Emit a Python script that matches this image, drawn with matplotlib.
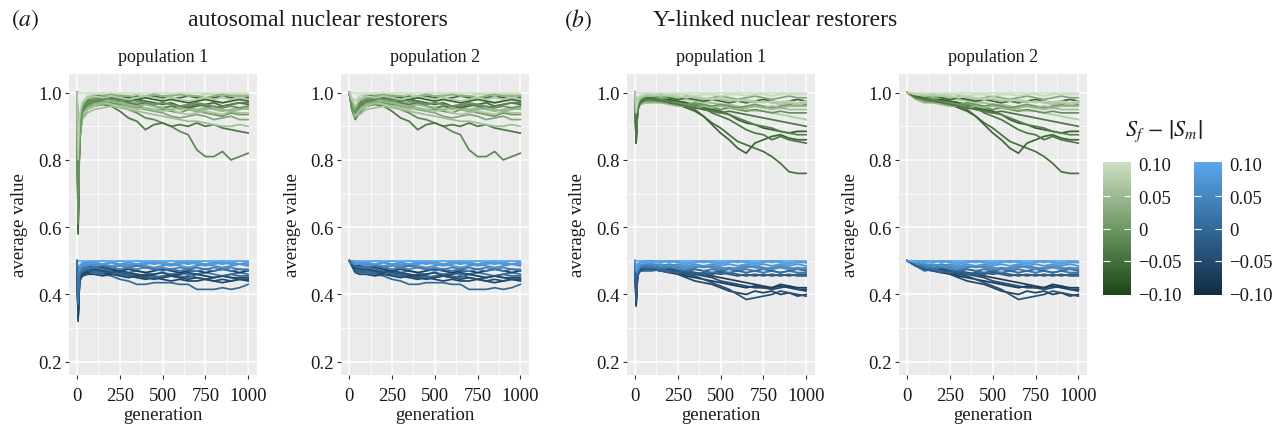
import matplotlib
matplotlib.use('Agg')
import numpy as np
import matplotlib.pyplot as plt
from matplotlib.colors import LinearSegmentedColormap, Normalize

plt.rcParams['font.family'] = ['Liberation Serif', 'DejaVu Serif']
plt.rcParams['mathtext.fontset'] = 'stix'

# ---------------- data ----------------
LATE_GENS = [100, 150, 200, 250, 300, 350, 400, 450, 500, 550,
             600, 650, 700, 750, 800, 850, 900, 950, 1000]

# (a) autosomal restorers -- colour values (S_f - |S_m|)
A_GREEN_S = [-0.02, -0.04, 0.05, 0.02, 0.0, 0.04, -0.05, -0.07, -0.06, 0.08, 0.10, 0.06, -0.03, 0.03,
             0.04, -0.01, 0.07]
A_BLUE_S = [0.0, -0.06, -0.04, 0.02, -0.07, 0.04, 0.06, 0.09, 0.10, 0.0, 0.07, -0.05,
            0.07, -0.05, 0.02]

A_GREEN_LATE = [
    [.97, .975, .97, .96, .95, .94, .925, .92, .91, .90, .885, .875, .83, .81, .81, .825, .80, .81, .82],
    [.96, .965, .96, .945, .925, .915, .89, .905, .91, .90, .905, .90, .91, .90, .905, .895, .89, .885, .88],
    [.95, .955, .96, .955, .95, .945, .94, .935, .93, .925, .92, .915, .915, .91, .905, .90, .90, .905, .90],
    [.96, .965, .97, .965, .96, .955, .95, .945, .94, .93, .925, .93, .935, .93, .92, .925, .93, .92, .92],
    [.97, .975, .97, .965, .97, .96, .955, .95, .95, .945, .94, .95, .945, .94, .935, .93, .94, .935, .935],
    [.975, .98, .975, .97, .975, .97, .965, .96, .955, .96, .95, .955, .95, .955, .95, .945, .95, .955, .95],
    [.985, .99, .985, .98, .975, .98, .975, .97, .965, .97, .96, .955, .96, .965, .97, .96, .965, .97, .965],
    [.99, .99, .985, .99, .985, .98, .985, .98, .975, .98, .975, .97, .975, .98, .975, .97, .975, .98, .975],
    [.99, .995, .99, .99, .985, .99, .985, .99, .985, .98, .985, .99, .985, .98, .985, .99, .985, .98, .985],
    [.995, .995, .99, .995, .99, .995, .99, .995, .99, .995, .99, .995, .99, .995, .995, .99, .995, .995, .995],
    [1.0, 1.0, 1.0, 1.0, 1.0, 1.0, 1.0, 1.0, 1.0, 1.0, 1.0, 1.0, 1.0, 1.0, 1.0, 1.0, 1.0, 1.0, 1.0],
    [.96, .97, .965, .96, .955, .95, .955, .95, .945, .95, .94, .935, .94, .945, .94, .935, .945, .94, .94],
    [.975, .98, .985, .98, .97, .965, .97, .96, .955, .96, .955, .96, .965, .96, .955, .96, .965, .97, .97],
    [.985, .99, .995, .99, .99, .985, .99, .995, .99, .99, .995, .99, .99, .985, .99, .995, .99, .99, .99],
    [.965, .97, .975, .97, .965, .96, .965, .96, .955, .95, .955, .95, .945, .95, .955, .95, .945, .95, .955],
    [.98, .985, .98, .975, .98, .975, .97, .965, .97, .965, .96, .965, .97, .965, .96, .955, .96, .955, .96],
    [.99, .985, .99, .985, .98, .985, .99, .985, .98, .985, .98, .975, .98, .985, .98, .985, .98, .985, .98],
]
A_BLUE_LATE = [
    [.465, .46, .455, .445, .44, .43, .43, .435, .435, .435, .43, .43, .415, .415, .415, .42, .415, .42, .43],
    [.47, .465, .46, .46, .455, .45, .445, .45, .445, .44, .445, .44, .44, .445, .44, .435, .44, .445, .44],
    [.475, .47, .47, .465, .46, .455, .46, .455, .45, .455, .45, .455, .45, .445, .45, .455, .45, .45, .45],
    [.48, .475, .47, .47, .465, .47, .465, .46, .465, .46, .465, .46, .46, .465, .46, .455, .46, .465, .46],
    [.485, .48, .475, .47, .475, .47, .465, .47, .475, .47, .465, .47, .47, .465, .47, .475, .47, .465, .47],
    [.49, .485, .48, .485, .48, .475, .48, .475, .48, .475, .48, .475, .47, .475, .48, .475, .48, .475, .475],
    [.49, .49, .485, .49, .485, .49, .485, .48, .485, .49, .485, .48, .485, .49, .485, .48, .485, .49, .485],
    [.495, .50, .495, .50, .495, .50, .495, .50, .495, .50, .495, .50, .495, .50, .495, .50, .495, .50, .495],
    [.50, .50, .50, .50, .50, .50, .50, .50, .50, .50, .50, .50, .50, .50, .50, .50, .50, .50, .50],
    [.47, .465, .47, .46, .455, .46, .455, .45, .455, .46, .455, .45, .46, .455, .45, .455, .46, .455, .455],
    [.485, .49, .495, .49, .49, .485, .49, .495, .49, .485, .49, .495, .49, .485, .49, .495, .49, .49, .49],
    [.475, .47, .465, .47, .465, .46, .455, .46, .465, .455, .46, .465, .46, .455, .45, .455, .45, .445, .445],
    [.495, .49, .495, .49, .495, .49, .495, .49, .495, .49, .495, .49, .495, .49, .495, .49, .495, .49, .495],
    [.46, .455, .46, .455, .45, .455, .45, .445, .45, .455, .45, .445, .45, .445, .44, .445, .44, .445, .445],
    [.48, .485, .48, .475, .48, .485, .48, .475, .47, .475, .47, .475, .48, .475, .47, .475, .47, .475, .47],
]

# (a) early generations, population 1 and 2
A1_EARLY_GENS = [0, 6, 15, 30, 60]
A1_GREEN_EARLY = [
    [1.0, .62, .85, .93, .955], [1.0, .65, .86, .925, .95], [1.0, .70, .87, .92, .94],
    [1.0, .68, .875, .93, .95], [1.0, .64, .88, .94, .96], [1.0, .72, .89, .945, .965],
    [1.0, .60, .88, .95, .975], [1.0, .58, .89, .955, .98], [1.0, .59, .90, .96, .985],
    [1.0, .78, .92, .97, .99], [1.0, 1.0, 1.0, 1.0, 1.0], [1.0, .75, .88, .93, .95],
    [1.0, .63, .87, .94, .965], [1.0, .70, .90, .96, .98], [1.0, .66, .87, .935, .955],
    [1.0, .61, .88, .95, .97], [1.0, .80, .93, .97, .985],
]
A1_BLUE_EARLY = [
    [.5, .33, .44, .455, .46], [.5, .32, .445, .46, .465], [.5, .34, .45, .465, .47],
    [.5, .36, .45, .47, .475], [.5, .33, .455, .475, .48], [.5, .38, .46, .48, .485],
    [.5, .42, .47, .485, .49], [.5, .47, .485, .495, .495], [.5, .5, .5, .5, .5],
    [.5, .35, .45, .465, .47], [.5, .45, .48, .49, .49], [.5, .34, .445, .46, .47],
    [.5, .44, .48, .49, .495], [.5, .33, .44, .455, .46], [.5, .37, .46, .475, .48],
]
A2_EARLY_GENS = [0, 15, 35, 60]
A2_GREEN_EARLY = [
    [1.0, .955, .925, .945], [1.0, .95, .92, .94], [1.0, .96, .93, .935],
    [1.0, .955, .925, .945], [1.0, .96, .935, .955], [1.0, .965, .94, .96],
    [1.0, .96, .945, .97], [1.0, .965, .95, .975], [1.0, .97, .955, .98],
    [1.0, .985, .975, .99], [1.0, 1.0, 1.0, 1.0], [1.0, .96, .93, .945],
    [1.0, .955, .935, .96], [1.0, .97, .95, .975], [1.0, .96, .935, .95],
    [1.0, .955, .94, .965], [1.0, .98, .96, .98],
]
A2_BLUE_EARLY = [
    [.5, .485, .47, .465], [.5, .49, .475, .47], [.5, .49, .48, .475],
    [.5, .49, .48, .48], [.5, .495, .485, .485], [.5, .495, .49, .49],
    [.5, .495, .49, .49], [.5, .5, .495, .495], [.5, .5, .5, .5],
    [.5, .49, .475, .47], [.5, .495, .49, .49], [.5, .49, .48, .475],
    [.5, .5, .495, .495], [.5, .485, .465, .46], [.5, .49, .485, .48],
]

# (b) Y-linked restorers
B_GREEN_S = [-0.05, -0.06, -0.04, -0.07, -0.03, 0.07, 0.05, 0.0, -0.06, 0.02, 0.09, 0.10, -0.01, 0.04,
             0.06, -0.04, 0.08]
B_BLUE_S = [-0.08, -0.06, -0.04, -0.05, -0.07, -0.02, 0.02, 0.04, 0.07, 0.09, 0.10, 0.0,
            0.05, -0.02, 0.08]

B_GREEN_LATE = [
    [.985, .985, .98, .97, .96, .95, .93, .91, .895, .875, .855, .845, .835, .825, .81, .79, .765, .76, .76],
    [.98, .98, .975, .965, .955, .945, .93, .905, .88, .86, .835, .82, .85, .86, .87, .875, .865, .86, .86],
    [.985, .98, .98, .975, .97, .96, .955, .94, .93, .92, .905, .89, .88, .875, .86, .87, .86, .855, .85],
    [.99, .985, .98, .975, .97, .965, .955, .95, .945, .935, .92, .91, .905, .895, .89, .885, .88, .885, .885],
    [.98, .98, .975, .97, .965, .96, .95, .945, .94, .935, .925, .915, .905, .90, .895, .885, .88, .875, .875],
    [.99, .985, .985, .98, .98, .975, .97, .97, .965, .96, .955, .95, .945, .945, .94, .935, .93, .925, .92],
    [.99, .99, .985, .985, .98, .98, .975, .97, .965, .965, .96, .955, .96, .955, .95, .955, .95, .95, .95],
    [.975, .975, .97, .97, .965, .97, .965, .96, .965, .96, .955, .96, .965, .96, .955, .96, .965, .96, .965],
    [.985, .99, .985, .98, .985, .98, .975, .98, .975, .97, .975, .97, .975, .98, .975, .97, .975, .98, .975],
    [.99, .985, .99, .985, .99, .985, .98, .985, .99, .985, .98, .985, .99, .985, .98, .985, .99, .985, .985],
    [.995, .995, .99, .995, .995, .99, .995, .995, .99, .995, .995, .99, .995, .995, .99, .995, .995, .995, .995],
    [1.0, 1.0, 1.0, 1.0, 1.0, 1.0, 1.0, 1.0, 1.0, 1.0, 1.0, 1.0, 1.0, 1.0, 1.0, 1.0, 1.0, 1.0, 1.0],
    [.98, .975, .97, .965, .96, .965, .96, .955, .95, .955, .95, .945, .95, .945, .94, .945, .94, .94, .94],
    [.97, .97, .965, .96, .96, .955, .96, .955, .96, .955, .95, .955, .96, .955, .96, .955, .96, .96, .96],
    [.99, .995, .99, .985, .99, .985, .98, .985, .98, .975, .98, .975, .97, .975, .97, .965, .97, .965, .97],
    [.98, .975, .97, .965, .96, .955, .95, .945, .94, .945, .94, .935, .93, .925, .92, .915, .91, .905, .90],
    [.995, .99, .995, .99, .985, .99, .985, .98, .985, .98, .975, .98, .975, .97, .975, .97, .975, .97, .975],
]
B_BLUE_LATE = [
    [.48, .475, .47, .465, .455, .45, .445, .44, .435, .43, .425, .42, .425, .42, .42, .425, .42, .415, .415],
    [.475, .47, .465, .46, .45, .44, .435, .43, .42, .41, .405, .40, .41, .405, .41, .40, .405, .395, .40],
    [.48, .475, .47, .465, .46, .455, .445, .435, .425, .415, .40, .385, .39, .395, .40, .41, .405, .40, .395],
    [.48, .48, .475, .47, .465, .46, .455, .45, .44, .435, .43, .425, .42, .42, .415, .42, .425, .415, .41],
    [.485, .48, .475, .47, .465, .465, .46, .455, .45, .445, .44, .435, .43, .425, .42, .43, .425, .42, .42],
    [.475, .47, .47, .465, .47, .465, .46, .465, .46, .465, .46, .455, .46, .455, .46, .455, .46, .455, .455],
    [.48, .475, .48, .475, .47, .475, .47, .475, .47, .465, .47, .475, .47, .465, .47, .465, .47, .465, .465],
    [.485, .48, .485, .48, .475, .48, .485, .48, .475, .48, .475, .48, .485, .48, .475, .48, .475, .48, .475],
    [.49, .49, .485, .49, .485, .49, .485, .49, .485, .49, .485, .49, .485, .49, .485, .49, .485, .49, .485],
    [.495, .50, .495, .50, .495, .50, .495, .50, .495, .50, .495, .50, .495, .50, .495, .50, .495, .50, .495],
    [.50, .50, .50, .50, .50, .50, .50, .50, .50, .50, .50, .50, .50, .50, .50, .50, .50, .50, .50],
    [.47, .475, .47, .465, .47, .475, .47, .465, .47, .475, .47, .465, .47, .475, .47, .465, .47, .475, .47],
    [.49, .485, .49, .485, .48, .485, .48, .485, .48, .475, .48, .485, .48, .475, .48, .485, .48, .475, .48],
    [.475, .47, .465, .47, .465, .46, .465, .46, .465, .46, .455, .46, .455, .46, .455, .46, .455, .46, .46],
    [.50, .495, .50, .495, .49, .495, .50, .495, .49, .495, .50, .495, .49, .495, .50, .495, .49, .495, .495],
]

B1_EARLY_GENS = [0, 6, 15, 30, 60]
B1_GREEN_EARLY = [
    [1.0, .86, .95, .975, .985], [1.0, .85, .945, .97, .98], [1.0, .87, .95, .975, .985],
    [1.0, .86, .955, .975, .99], [1.0, .88, .95, .97, .98], [1.0, .92, .97, .985, .99],
    [1.0, .90, .965, .985, .99], [1.0, .87, .95, .965, .975], [1.0, .85, .955, .975, .985],
    [1.0, .89, .96, .98, .99], [1.0, .96, .985, .99, .995], [1.0, 1.0, 1.0, 1.0, 1.0],
    [1.0, .87, .95, .97, .98], [1.0, .90, .955, .965, .97], [1.0, .90, .97, .985, .99],
    [1.0, .86, .95, .97, .98], [1.0, .94, .98, .99, .995],
]
B1_BLUE_EARLY = [
    [.5, .37, .46, .475, .48], [.5, .365, .455, .47, .475], [.5, .38, .46, .475, .48],
    [.5, .39, .465, .475, .48], [.5, .37, .465, .48, .485], [.5, .40, .465, .47, .475],
    [.5, .41, .47, .48, .48], [.5, .43, .475, .485, .485], [.5, .45, .48, .49, .49],
    [.5, .48, .49, .495, .495], [.5, .5, .5, .5, .5], [.5, .39, .46, .47, .47],
    [.5, .42, .47, .485, .49], [.5, .38, .46, .47, .475], [.5, .47, .49, .495, .50],
]
B2_EARLY_GENS = [0, 50]
B2_GREEN_EARLY = [
    [1.0, .99], [1.0, .99], [1.0, .99], [1.0, .995], [1.0, .985], [1.0, .995], [1.0, .995],
    [1.0, .985], [1.0, .99], [1.0, .995], [1.0, .995], [1.0, 1.0], [1.0, .985], [1.0, .98],
    [1.0, .995], [1.0, .985], [1.0, .995],
]
B2_BLUE_EARLY = [
    [.5, .49], [.5, .485], [.5, .49], [.5, .49], [.5, .49], [.5, .485],
    [.5, .49], [.5, .495], [.5, .495], [.5, .5], [.5, .5], [.5, .485],
    [.5, .49], [.5, .485], [.5, .495],
]

X_TICKS = [0, 250, 500, 750, 1000]
Y_TICKS = [0.2, 0.4, 0.6, 0.8, 1.0]
CB_TICKS = [-0.10, -0.05, 0.0, 0.05, 0.10]
CB_LABELS = ['\u22120.10', '\u22120.05', '0', '0.05', '0.10']

# ---------------- styling ----------------
W, H = 1272, 427
fig = plt.figure(figsize=(W / 100, H / 100), dpi=100)

green_cmap = LinearSegmentedColormap.from_list('g', ['#1b4716', '#6f9864', '#cfe1c5'])
blue_cmap = LinearSegmentedColormap.from_list('b', ['#132B43', '#336A98', '#5AA8F0'])
norm = Normalize(-0.1, 0.1)

def fx(px):
    return px / W

def fy(py):
    return 1 - py / H

panels = [
    (68.5, A1_EARLY_GENS, A1_GREEN_EARLY, A1_BLUE_EARLY, A_GREEN_LATE, A_BLUE_LATE, A_GREEN_S, A_BLUE_S, 'population 1'),
    (340.7, A2_EARLY_GENS, A2_GREEN_EARLY, A2_BLUE_EARLY, A_GREEN_LATE, A_BLUE_LATE, A_GREEN_S, A_BLUE_S, 'population 2'),
    (626.5, B1_EARLY_GENS, B1_GREEN_EARLY, B1_BLUE_EARLY, B_GREEN_LATE, B_BLUE_LATE, B_GREEN_S, B_BLUE_S, 'population 1'),
    (898.7, B2_EARLY_GENS, B2_GREEN_EARLY, B2_BLUE_EARLY, B_GREEN_LATE, B_BLUE_LATE, B_GREEN_S, B_BLUE_S, 'population 2'),
]

AX_TOP, AX_BOT, AX_W = 75, 376, 188.5
TXT = '#1a1a1a'

for left, egens, gearly, bearly, glate, blate, gs, bs, ptitle in panels:
    ax = fig.add_axes([fx(left), fy(AX_BOT), fx(AX_W), (AX_BOT - AX_TOP) / H])
    ax.set_facecolor('#EBEBEB')
    for sp in ax.spines.values():
        sp.set_visible(False)
    gens = egens + LATE_GENS
    for i, s in enumerate(gs):
        ax.plot(gens, gearly[i] + glate[i], color=green_cmap(norm(s)), lw=1.25,
                solid_joinstyle='round', zorder=3)
    for i, s in enumerate(bs):
        ax.plot(gens, bearly[i] + blate[i], color=blue_cmap(norm(s)), lw=1.25,
                solid_joinstyle='round', zorder=3)
    ax.set_xlim(-50, 1052)
    ax.set_ylim(0.1604, 1.0556)
    ax.set_xticks(X_TICKS)
    ax.set_xticklabels([str(t) for t in X_TICKS])
    ax.set_yticks(Y_TICKS)
    ax.set_yticklabels(['%.1f' % t for t in Y_TICKS])
    ax.set_xticks([125, 375, 625, 875], minor=True)
    ax.set_yticks([0.3, 0.5, 0.7, 0.9], minor=True)
    ax.grid(which='major', color='white', lw=1.1, zorder=0)
    ax.grid(which='minor', color='white', lw=0.55, zorder=0)
    ax.set_axisbelow(True)
    ax.tick_params(which='major', length=3, width=0.8, color='#333333',
                   labelsize=13.5, labelcolor=TXT)
    ax.tick_params(axis='x', which='major', pad=6)
    ax.tick_params(axis='y', which='major', pad=2)
    ax.tick_params(which='minor', length=0)
    ax.set_xlabel('generation', fontsize=13.5, color=TXT, labelpad=1)
    ax.set_ylabel('average value', fontsize=13.5, color=TXT, labelpad=7)
    ax.set_title(ptitle, fontsize=13, color=TXT, pad=9)

# panel headings
fig.text(fx(25), fy(20), r'$(\mathit{a})$', fontsize=17, ha='center', va='center', color=TXT)
fig.text(fx(318), fy(20), 'autosomal nuclear restorers', fontsize=17, ha='center', va='center', color=TXT)
fig.text(fx(578), fy(20), r'$(\mathit{b})$', fontsize=17, ha='center', va='center', color=TXT)
fig.text(fx(775), fy(20), 'Y-linked nuclear restorers', fontsize=17, ha='center', va='center', color=TXT)

# colour bars
fig.text(fx(1164), fy(131), r'$S_f\,-\,\left|S_m\right|$', fontsize=16, ha='center', va='center', color=TXT)
grad = np.linspace(-0.1, 0.1, 256).reshape(-1, 1)
for cleft, cmap in [(1103, green_cmap), (1194, blue_cmap)]:
    cax = fig.add_axes([fx(cleft), fy(296), fx(28), (296 - 163) / H])
    cax.imshow(grad, cmap=cmap, norm=norm, aspect='auto', origin='lower',
               extent=[0, 1, -0.1025, 0.1025])
    cax.set_xlim(0, 1)
    cax.set_ylim(-0.1025, 0.1025)
    for sp in cax.spines.values():
        sp.set_visible(False)
    cax.set_xticks([])
    cax.set_yticks(CB_TICKS)
    cax.set_yticklabels(CB_LABELS)
    cax.yaxis.tick_right()
    cax.tick_params(axis='y', direction='in', length=5, width=0.8, colors='white',
                    labelcolor=TXT, labelsize=13.5, left=True, right=True, pad=5)
    ticks = cax.yaxis.get_major_ticks()
    for t in (ticks[0], ticks[-1]):
        t.tick1line.set_visible(False)
        t.tick2line.set_visible(False)

fig.savefig('out.png', dpi=100)
